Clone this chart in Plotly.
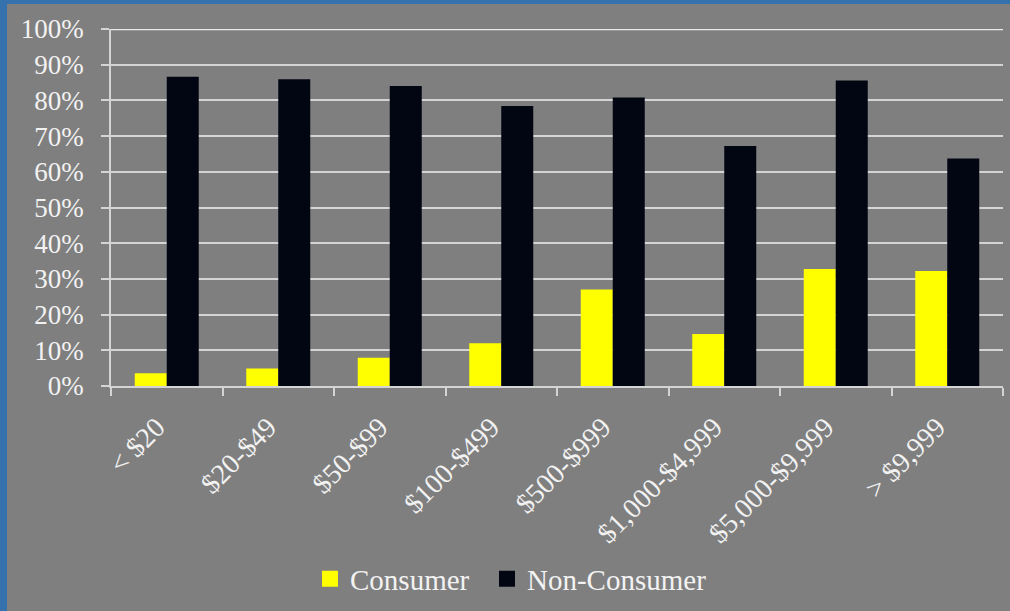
import plotly.graph_objects as go

categories = ["< $20", "$20-$49", "$50-$99", "$100-$499", "$500-$999",
              "$1,000-$4,999", "$5,000-$9,999", "> $9,999"]
consumer = [0.036, 0.049, 0.079, 0.12, 0.27, 0.146, 0.328, 0.322]
non_consumer = [0.866, 0.859, 0.84, 0.784, 0.808, 0.672, 0.856, 0.637]
series_names = ["Consumer", "Non-Consumer"]

BG = "#7f7f7f"
BLUE = "#3471ad"
TXT = "#f2f2f2"
GRID = "#d4d4d4"
YELLOW = "#ffff00"
DARK = "#020612"
FONT = "Liberation Serif"

fig = go.Figure()
fig.add_trace(go.Bar(x=categories, y=consumer, name=series_names[0], showlegend=False,
                     marker=dict(color=YELLOW, line=dict(width=0))))
fig.add_trace(go.Bar(x=categories, y=non_consumer, name=series_names[1], showlegend=False,
                     marker=dict(color=DARK, line=dict(width=0))))
# legend entries (larger square swatches)
fig.add_trace(go.Scatter(x=[None], y=[None], mode="markers", name=series_names[0], legend="legend",
                         marker=dict(symbol="square", size=16, color=YELLOW, line=dict(width=0))))
fig.add_trace(go.Scatter(x=[None], y=[None], mode="markers", name=series_names[1], legend="legend2",
                         marker=dict(symbol="square", size=16, color=DARK, line=dict(width=0))))

W, H = 1010, 611
L, R, T, B = 111, 7, 29, 225
pw, ph = W - L - R, H - T - B

def px_x(p):
    return (p - L) / pw

def px_y(p):
    return (H - B - p) / ph

# blue frame strips at left and top edges of the slide
fig.add_shape(type="rect", xref="paper", yref="paper",
              x0=px_x(-2), x1=px_x(7), y0=px_y(H + 2), y1=px_y(-2),
              fillcolor=BLUE, line=dict(width=0), layer="below")
fig.add_shape(type="rect", xref="paper", yref="paper",
              x0=px_x(-2), x1=px_x(W + 2), y0=px_y(4), y1=px_y(-2),
              fillcolor=BLUE, line=dict(width=0), layer="below")
# brighter top gridline
fig.add_shape(type="line", xref="paper", yref="y", x0=0, x1=1, y0=1, y1=1,
              line=dict(color="#ececec", width=2.5), layer="below")

legend_common = dict(orientation="h", yanchor="middle", xanchor="left", y=px_y(579),
                     font=dict(family=FONT, size=29, color=TXT),
                     bgcolor="rgba(0,0,0,0)", itemwidth=30)

fig.update_layout(
    width=W, height=H,
    margin=dict(l=L, r=R, t=T, b=B, autoexpand=False),
    paper_bgcolor=BG, plot_bgcolor=BG,
    font=dict(family=FONT, size=27, color=TXT),
    barmode="group", bargap=0.426, bargroupgap=0,
    showlegend=True,
    legend=dict(x=px_x(310), **legend_common),
    legend2=dict(x=px_x(487), **legend_common),
    xaxis=dict(type="category", tickson="boundaries", ticks="outside", ticklen=8,
               tickcolor=GRID, tickwidth=1.5, showline=True, linecolor=GRID, linewidth=1.5,
               tickangle=-45, showgrid=False, ticklabelstandoff=2,
               tickmode="array", tickvals=categories,
               ticktext=[c + "\u00a0\u00a0" for c in categories],
               tickfont=dict(family=FONT, size=28, color=TXT)),
    yaxis=dict(range=[0, 1], dtick=0.1, tickformat=".0%", ticks="outside", ticklen=8,
               tickcolor=GRID, tickwidth=1.5, showline=True, linecolor=GRID, linewidth=1.5,
               showgrid=True, gridcolor=GRID, gridwidth=1.5, zeroline=False,
               ticklabelstandoff=12,
               tickfont=dict(family=FONT, size=27, color=TXT)),
)

fig.write_html("out.html", config={"displayModeBar": False},
               post_script="document.body.style.margin='0';document.body.style.background='%s';" % BG)
